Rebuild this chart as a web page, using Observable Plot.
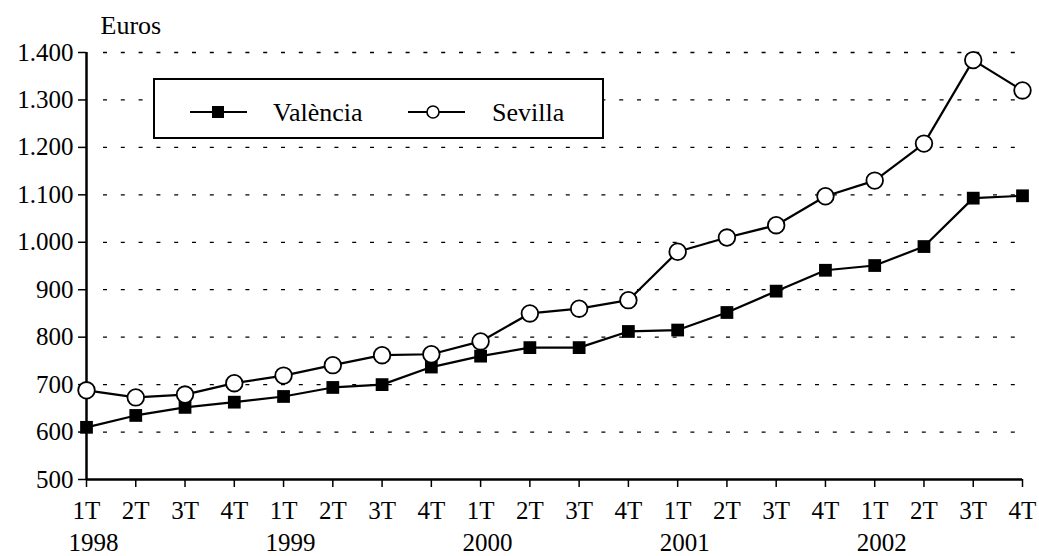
<!DOCTYPE html>
<html>
<head>
<meta charset="utf-8">
<script src="https://cdn.jsdelivr.net/npm/d3@7"></script>
<script src="https://cdn.jsdelivr.net/npm/@observablehq/plot@0.6"></script>
<style>
  html, body { margin: 0; padding: 0; background: #fff; }
  #wrap { position: relative; width: 1039px; height: 556px; font-family: "Liberation Serif", serif; }
  #wrap svg, #wrap svg text, #wrap svg g { font-family: "Liberation Serif", serif !important; }
  #legend { position: absolute; left: 153px; top: 78px; width: 451px; height: 61px; box-sizing: border-box; border: 2px solid #000; background: #fff; }
  #legend svg { position: absolute; left: 0; top: 0; }
</style>
</head>
<body>
<div id="wrap"></div>
<script>
const quarters = ["1T","2T","3T","4T","1T","2T","3T","4T","1T","2T","3T","4T","1T","2T","3T","4T","1T","2T","3T","4T"];
const years = ["1998","","","","1999","","","","2000","","","","2001","","","","2002","","",""];
const valencia = [610, 635, 652, 663, 675, 694, 700, 737, 760, 778, 778, 812, 815, 852, 897, 941, 951, 991, 1093, 1098];
const sevilla = [688, 673, 679, 703, 719, 741, 762, 764, 791, 850, 860, 878, 980, 1010, 1036, 1097, 1130, 1208, 1384, 1320];
const yTicks = [500, 600, 700, 800, 900, 1000, 1100, 1200, 1300, 1400];
const seriesNames = ["València", "Sevilla"];

const idx = d3.range(quarters.length);
const vData = idx.map(i => ({i, v: valencia[i]}));
const sData = idx.map(i => ({i, v: sevilla[i]}));
const fmt = d => d3.format(",")(d).replace(/,/g, ".");

const chart = Plot.plot({
  width: 1039,
  height: 556,
  marginLeft: 86,
  marginRight: 17,
  marginTop: 52,
  marginBottom: 77,
  style: "font-family: 'Liberation Serif', serif; font-size: 25px; color: #000; background: #fff;",
  x: {domain: [0, quarters.length - 1]},
  y: {domain: [500, 1400]},
  marks: [
    Plot.ruleY(yTicks.slice(1), {stroke: "#000", strokeWidth: 1.3, strokeDasharray: "4,13.8", insetLeft: 17}),
    Plot.axisY({ticks: yTicks, tickFormat: fmt, tickSize: 8, tickPadding: 5, strokeWidth: 1.5, label: null, fontSize: 25}),
    Plot.axisX({ticks: idx, tickFormat: () => "", tickSize: 8, strokeWidth: 1.5, label: null}),
    Plot.ruleX([0], {stroke: "#000", strokeWidth: 2.5}),
    Plot.ruleY([500], {stroke: "#000", strokeWidth: 2.5}),
    Plot.text(idx, {x: d => d, text: d => quarters[d], frameAnchor: "bottom", lineAnchor: "middle", dy: 31, fontSize: 25}),
    Plot.text(idx, {x: d => d, text: d => years[d], frameAnchor: "bottom", lineAnchor: "middle", dy: 63, fontSize: 25, dx: 7}),
    Plot.text(["Euros"], {frameAnchor: "top-left", textAnchor: "start", lineAnchor: "middle", dx: 14, dy: -27, fontSize: 26}),
    Plot.line(vData, {x: "i", y: "v", stroke: "#000", strokeWidth: 2.2}),
    Plot.line(sData, {x: "i", y: "v", stroke: "#000", strokeWidth: 2.2}),
    Plot.dot(vData, {x: "i", y: "v", symbol: "square", r: 7.2, fill: "#000"}),
    Plot.dot(sData, {x: "i", y: "v", symbol: "circle", r: 8.3, fill: "#fff", stroke: "#000", strokeWidth: 1.8})
  ]
});
const wrap = document.getElementById("wrap");
wrap.appendChild(chart);

// legend overlay
const legend = document.createElement("div");
legend.id = "legend";
legend.innerHTML = `<svg width="451" height="61" font-family="Liberation Serif" font-size="26">
  <line x1="35" x2="92" y1="32" y2="32" stroke="#000" stroke-width="2.2"/>
  <rect x="57" y="26" width="12" height="12" fill="#000"/>
  <text x="118" y="41">${seriesNames[0]}</text>
  <line x1="253" x2="310" y1="32" y2="32" stroke="#000" stroke-width="2.2"/>
  <circle cx="278" cy="32" r="6" fill="#fff" stroke="#000" stroke-width="1.6"/>
  <text x="337" y="41">${seriesNames[1]}</text>
</svg>`;
wrap.appendChild(legend);
</script>
</body>
</html>
